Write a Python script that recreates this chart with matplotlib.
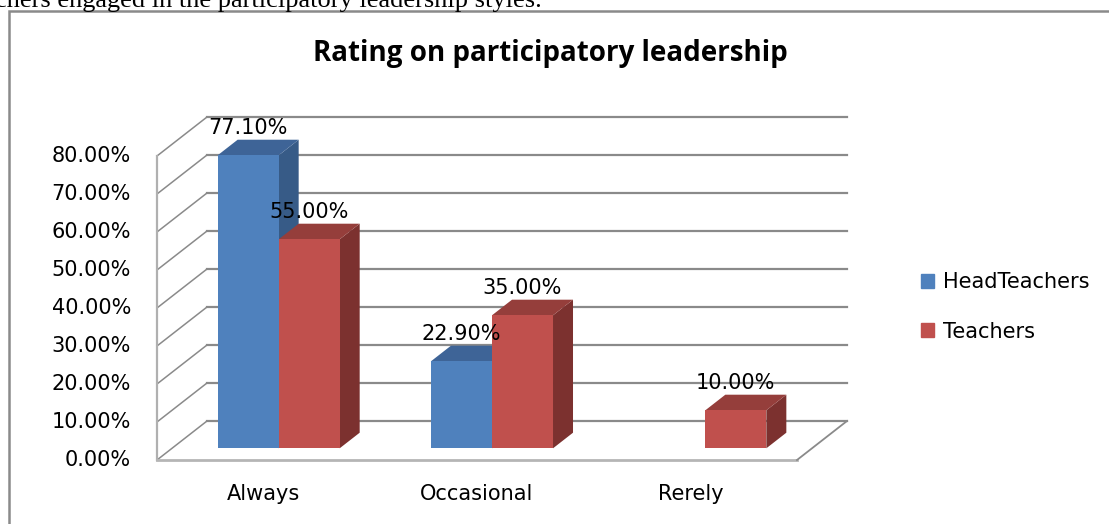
import numpy as np
import matplotlib.pyplot as plt
from matplotlib.patches import Rectangle, Patch

categories = ["Always", "Occasional", "Rerely"]
head_teachers = [77.1, 22.9, 0.0]
teachers = [55.0, 35.0, 10.0]
series_names = ["HeadTeachers", "Teachers"]
ticks = [0, 10, 20, 30, 40, 50, 60, 70, 80]

# fake 3d: depth offset in data units
DX = 50 / 213.33
DY = 39 / 3.8
D0, D1 = 0.3, 0.7
BW = 0.286

colors = {
    "front": ["#4F81BD", "#C0504D"],
    "top": ["#3E6497", "#953E3B"],
    "side": ["#375B87", "#7C312F"],
}

plt.rcParams['font.family'] = ['DejaVu Sans']

fig = plt.figure(figsize=(11.09, 5.24), dpi=100)
ax = fig.add_axes([0, 0, 1, 1])
ax.set_xlim(-157 / 213.33, (1109 - 157) / 213.33)
ax.set_ylim(-64 / 3.8, 460 / 3.8)
ax.axis('off')

grid_c = "#8a8a8a"
n = len(categories)

# back wall gridlines
for t in ticks:
    ax.plot([DX, n + DX], [t + DY, t + DY], color=grid_c, lw=1.6, zorder=1)
    ax.plot([0, DX], [t, t + DY], color=grid_c, lw=1.1, zorder=1)
# left wall front edge + floor
ax.plot([0, 0], [0, ticks[-1]], color="#b0b0b0", lw=1.6, zorder=1)
ax.plot([0, n], [0, 0], color="#b5b5b5", lw=2.0, zorder=1)
ax.plot([n, n + DX], [0, DY], color=grid_c, lw=1.3, zorder=1)

for i in range(n):
    for s, vals in enumerate([head_teachers, teachers]):
        v = vals[i]
        if v == 0:
            continue
        x0 = i + 0.5 - BW + s * BW + D0 * DX
        y0 = D0 * DY
        x1 = x0 + BW
        ddx = (D1 - D0) * DX
        ddy = (D1 - D0) * DY
        z = 3 + i * 2 + s
        # side face
        ax.fill([x1, x1 + ddx, x1 + ddx, x1], [y0, y0 + ddy, y0 + v + ddy, y0 + v],
                color=colors["side"][s], lw=0, zorder=z)
        # top face
        ax.fill([x0, x1, x1 + ddx, x0 + ddx], [y0 + v, y0 + v, y0 + v + ddy, y0 + v + ddy],
                color=colors["top"][s], lw=0, zorder=z)
        # front face
        ax.bar(x0, v, width=BW, bottom=y0, align='edge', color=colors["front"][s],
               lw=0, zorder=z)
        ax.text(x0 + BW / 2, v + D1 * DY + 3.2, f"{v:.2f}%", ha='center', va='center',
                fontsize=15, color="black", zorder=20)

# y tick labels
for t in ticks:
    ax.text(-26 / 213.33, t, f"{t:.2f}%", ha='right', va='center', fontsize=15)

# category labels
for i, c in enumerate(categories):
    ax.text(i + 0.5, -8.9, c, ha='center', va='center', fontsize=15)

fig.text(550 / 1109, 1 - 54 / 524, "Rating on participatory leadership",
         ha='center', va='center', fontsize=20, fontweight='bold', family='Open Sans')

handles = [Patch(color=colors["front"][k]) for k in range(2)]
ax.legend(handles, series_names, loc='center left', bbox_to_anchor=(902 / 1109, 1 - 307 / 524),
          bbox_transform=fig.transFigure, frameon=False, fontsize=15,
          handlelength=0.65, handleheight=0.65, handletextpad=0.4, labelspacing=1.4)

# outer chart frame and the cut text line above it
fig.add_artist(Rectangle((8.5 / 1109, -0.1), 1.2, 0.1 + (524 - 11) / 524,
                         transform=fig.transFigure, fill=False, ec="#8a8a8a", lw=1.8))
fig.text(-5 / 1109, 1 - 7 / 524, "chers engaged in the participatory leadership styles.",
         ha='left', va='baseline', fontsize=19, family='Liberation Serif')

fig.savefig("out.png", dpi=100)
